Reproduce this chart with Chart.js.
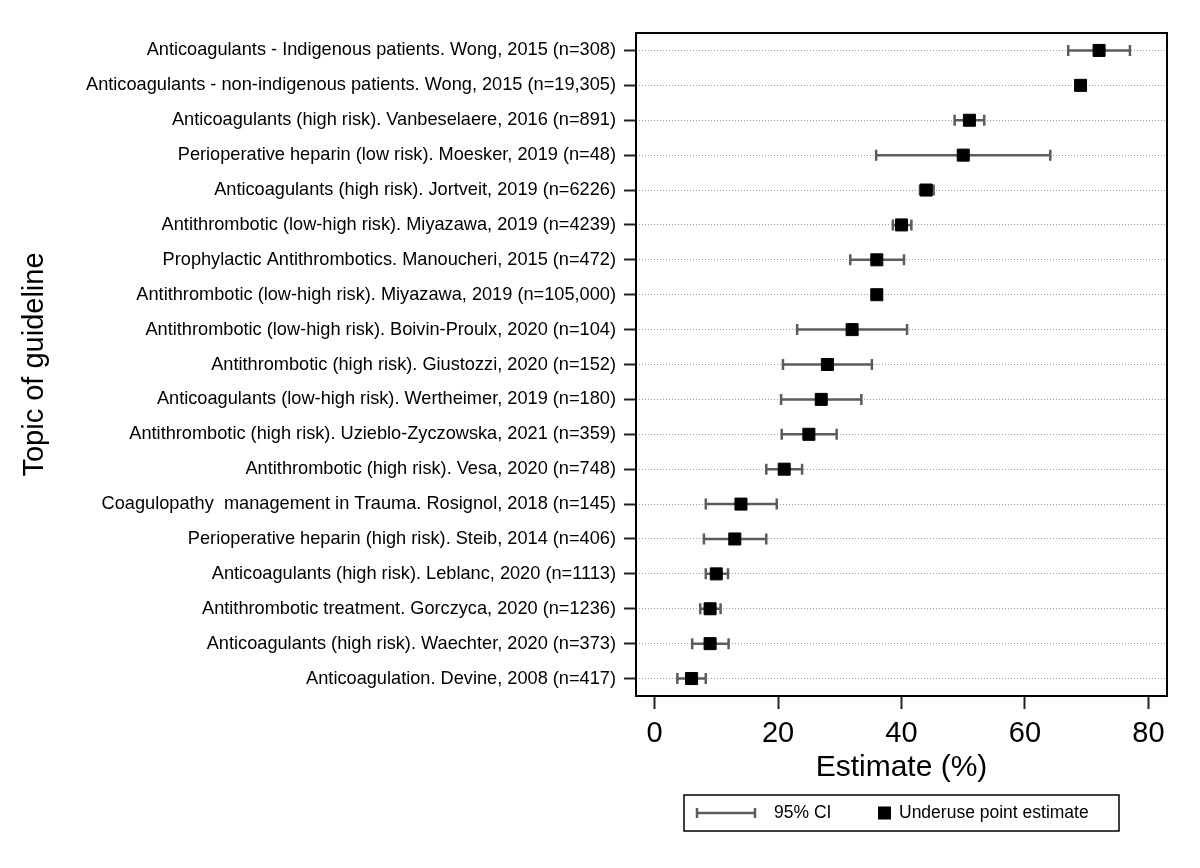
<!DOCTYPE html>
<html>
<head>
<meta charset="utf-8">
<script src="https://cdn.jsdelivr.net/npm/chart.js@4"></script>
<style>
  html, body { margin: 0; padding: 0; background: #fff; }
  #wrap { width: 1200px; height: 868px; }
</style>
</head>
<body>
<div id="wrap"><canvas id="forest" width="1200" height="868"></canvas></div>
<script>
// studies, top to bottom
const studies = [
  'Anticoagulants - Indigenous patients. Wong, 2015 (n=308)',
  'Anticoagulants - non-indigenous patients. Wong, 2015 (n=19,305)',
  'Anticoagulants (high risk). Vanbeselaere, 2016 (n=891)',
  'Perioperative heparin (low risk). Moesker, 2019 (n=48)',
  'Anticoagulants (high risk). Jortveit, 2019 (n=6226)',
  'Antithrombotic (low-high risk). Miyazawa, 2019 (n=4239)',
  'Prophylactic Antithrombotics. Manoucheri, 2015 (n=472)',
  'Antithrombotic (low-high risk). Miyazawa, 2019 (n=105,000)',
  'Antithrombotic (low-high risk). Boivin-Proulx, 2020 (n=104)',
  'Antithrombotic (high risk). Giustozzi, 2020 (n=152)',
  'Anticoagulants (low-high risk). Wertheimer, 2019 (n=180)',
  'Antithrombotic (high risk). Uzieblo-Zyczowska, 2021 (n=359)',
  'Antithrombotic (high risk). Vesa, 2020 (n=748)',
  'Coagulopathy  management in Trauma. Rosignol, 2018 (n=145)',
  'Perioperative heparin (high risk). Steib, 2014 (n=406)',
  'Anticoagulants (high risk). Leblanc, 2020 (n=1113)',
  'Antithrombotic treatment. Gorczyca, 2020 (n=1236)',
  'Anticoagulants (high risk). Waechter, 2020 (n=373)',
  'Anticoagulation. Devine, 2008 (n=417)'
];
const estimate = [72, 69, 51, 50, 44, 40, 36, 36, 32, 28, 27, 25, 21, 14, 13, 10, 9, 9, 6];
const ciLow    = [67, 68.3, 48.6, 35.9, 43, 38.6, 31.7, 35.7, 23.1, 20.8, 20.5, 20.6, 18.1, 8.3, 8.0, 8.3, 7.4, 6.1, 3.7];
const ciHigh   = [77, 69.6, 53.4, 64.1, 45.2, 41.6, 40.4, 36.4, 40.9, 35.2, 33.5, 29.5, 23.9, 19.8, 18.1, 11.9, 10.7, 12.0, 8.3];
const xTicks = [0, 20, 40, 60, 80];
const legendLabels = ['95% CI', 'Underuse point estimate'];

Chart.defaults.font.family = "'Liberation Sans', Arial, sans-serif";
Chart.defaults.color = '#000';

const CI_COLOR = '#5c5c5c';

function ciLine(ctx, x1, x2, y, cap){
  ctx.beginPath();
  ctx.moveTo(x1, y); ctx.lineTo(x2, y);
  ctx.moveTo(x1, y - cap); ctx.lineTo(x1, y + cap);
  ctx.moveTo(x2, y - cap); ctx.lineTo(x2, y + cap);
  ctx.stroke();
}

// CI whiskers under the squares
const whiskers = {
  id: 'whiskers',
  beforeDatasetsDraw(chart){
    const {ctx, scales: {x, y}} = chart;
    ctx.save();
    ctx.strokeStyle = CI_COLOR;
    ctx.lineWidth = 2.5;
    estimate.forEach((_, i) => {
      ciLine(ctx, x.getPixelForValue(ciLow[i]), x.getPixelForValue(ciHigh[i]), y.getPixelForValue(i), 5.5);
    });
    ctx.restore();
  }
};

// box around plot + legend box underneath
const frame = {
  id: 'frame',
  afterDraw(chart){
    const {ctx, chartArea: a} = chart;
    ctx.save();
    ctx.strokeStyle = '#000';
    ctx.lineWidth = 2;
    ctx.strokeRect(a.left, a.top, a.right - a.left, a.bottom - a.top);

    const w = 435, h = 36;
    const bx = Math.round((a.left + a.right) / 2 - w / 2);
    const by = a.bottom + 99;
    ctx.lineWidth = 1.5;
    ctx.strokeRect(bx, by, w, h);
    const cy = by + h / 2;
    ctx.strokeStyle = CI_COLOR;
    ctx.lineWidth = 2.5;
    ciLine(ctx, bx + 13, bx + 71, cy, 5);
    ctx.fillStyle = '#000';
    ctx.fillRect(bx + 194, cy - 6.5, 13, 13);
    ctx.font = "17.5px 'Liberation Sans', Arial, sans-serif";
    ctx.textBaseline = 'middle';
    ctx.fillText(legendLabels[0], bx + 90, cy);
    ctx.fillText(legendLabels[1], bx + 215, cy);
    ctx.restore();
  }
};

new Chart(document.getElementById('forest'), {
  type: 'scatter',
  data: {
    datasets: [{
      label: legendLabels[1],
      data: estimate.map((v, i) => ({x: v, y: i})),
      pointStyle: 'rect',
      pointRadius: 8.5,
      pointHoverRadius: 8.5,
      backgroundColor: '#000',
      borderColor: '#000',
      borderWidth: 1
    }]
  },
  options: {
    responsive: false,
    animation: false,
    devicePixelRatio: 1,
    layout: { padding: { top: 33, right: 33, left: 0, bottom: 82 } },
    plugins: { legend: { display: false }, tooltip: { enabled: false } },
    scales: {
      x: {
        type: 'linear',
        min: -3, max: 83,
        afterBuildTicks: s => { s.ticks = xTicks.map(v => ({value: v})); },
        afterFit: s => { s.height = 90; },
        ticks: { font: { size: 29 }, padding: 8, maxRotation: 0 },
        grid: { drawOnChartArea: false, tickLength: 13, tickColor: '#222', tickWidth: 2 },
        border: { display: false },
        title: { display: true, text: 'Estimate (%)', font: { size: 30 }, padding: { top: 2, bottom: 0 } }
      },
      y: {
        type: 'linear',
        reverse: true,
        min: -0.5, max: 18.5,
        afterBuildTicks: s => { s.ticks = studies.map((_, i) => ({value: i})); },
        afterFit: s => { s.width = 636; },
        ticks: { font: { size: 18.2 }, padding: 8, callback: v => studies[v] },
        grid: { color: '#a0a0a0', lineWidth: 1, tickLength: 12, tickColor: '#222', tickWidth: 2, tickBorderDash: [] },
        border: { display: false, dash: [1, 2] },
        title: { display: true, text: 'Topic of guideline', font: { size: 29 }, padding: { top: 18, bottom: 0 } }
      }
    }
  },
  plugins: [whiskers, frame]
});
</script>
</body>
</html>
